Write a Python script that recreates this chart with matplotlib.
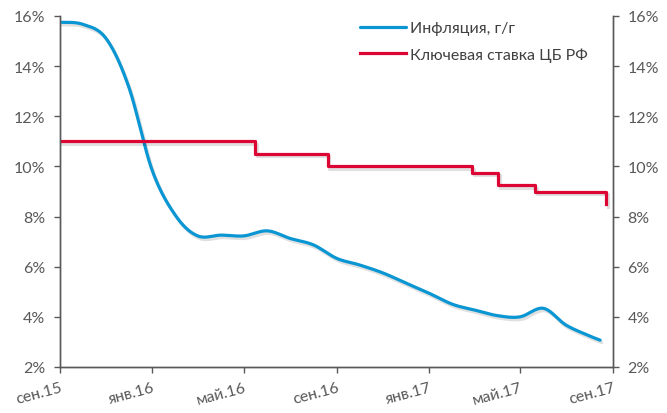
import numpy as np
import pandas as pd
import matplotlib
matplotlib.use("Agg")
import matplotlib.pyplot as plt
import matplotlib.dates as mdates
import matplotlib.patheffects as pe

# ---------------- data ----------------
infl_dates = ["2015-09-01", "2015-10-01", "2015-11-01", "2015-12-01",
              "2016-01-01", "2016-02-01", "2016-03-01", "2016-04-01",
              "2016-05-01", "2016-06-01", "2016-07-01", "2016-08-01",
              "2016-09-01", "2016-10-01", "2016-11-01", "2016-12-01",
              "2017-01-01", "2017-02-01", "2017-03-01", "2017-04-01",
              "2017-05-01", "2017-06-01", "2017-07-01", "2017-08-01",
              "2017-08-15"]
infl_values = [15.75, 15.67, 15.1, 13.16, 9.83, 8.03, 7.23, 7.26,
               7.23, 7.43, 7.13, 6.87, 6.33, 6.07, 5.75, 5.35,
               4.94, 4.5, 4.28, 4.05, 4.0, 4.34, 3.67, 3.24, 3.07]

rate_dates = ["2015-09-01", "2016-05-16", "2016-08-20", "2017-02-27",
              "2017-04-02", "2017-05-21", "2017-08-23"]
rate_values = [11.0, 10.5, 10.0, 9.75, 9.25, 9.0, 8.5]

tick_dates = ["2015-09-01", "2016-01-01", "2016-05-01", "2016-09-01",
              "2017-01-01", "2017-05-01", "2017-09-01"]
tick_labels = ["сен.15", "янв.16", "май.16", "сен.16", "янв.17", "май.17", "сен.17"]

y_ticks = [2, 4, 6, 8, 10, 12, 14, 16]

series_names = ["Инфляция, г/г", "Ключевая ставка ЦБ РФ"]

# ---------------- style ----------------
BLUE = "#0A96D2"
RED = "#DC0534"
GRAY = "#595959"
plt.rcParams["font.family"] = ["Lato", "DejaVu Sans"]


def smooth_curve(x, y, n=30):
    """Excel-like smoothed line (Catmull-Rom cubic Bezier) for rendering."""
    pts = np.column_stack([x, y]).astype(float)
    out = []
    m = len(pts)
    for i in range(m - 1):
        p0 = pts[i - 1] if i > 0 else pts[i]
        p1 = pts[i]
        p2 = pts[i + 1]
        p3 = pts[i + 2] if i + 2 < m else pts[i + 1]
        c1 = p1 + (p2 - p0) / 6.0
        c2 = p2 - (p3 - p1) / 6.0
        t = np.linspace(0, 1, n, endpoint=(i == m - 2))[:, None]
        seg = ((1 - t) ** 3) * p1 + 3 * ((1 - t) ** 2) * t * c1 + 3 * (1 - t) * t ** 2 * c2 + t ** 3 * p2
        out.append(seg)
    out = np.vstack(out)
    return out[:, 0], out[:, 1]


fig = plt.figure(figsize=(6.67, 4.14), dpi=100)
ax = fig.add_axes([60 / 667, 1 - 368 / 414, (613 - 60) / 667, (368 - 17) / 414])

xi = mdates.date2num(pd.to_datetime(infl_dates))
sx, sy = smooth_curve(xi, infl_values)
xr = mdates.date2num(pd.to_datetime(rate_dates))

shadow = [pe.SimpleLineShadow(offset=(1.2, -1.8), shadow_color="black", alpha=0.12),
          pe.Normal()]

ax.plot(sx, sy, color=BLUE, lw=2.3, label=series_names[0],
        solid_capstyle="round", path_effects=shadow, zorder=3)
ax.plot(xr, rate_values, color=RED, lw=2.3, drawstyle="steps-post",
        label=series_names[1], path_effects=shadow, zorder=3)

xt = mdates.date2num(pd.to_datetime(tick_dates))
ax.set_xlim(xt[0], xt[-1])
ax.set_ylim(2, 16)
ax.set_yticks(y_ticks)
ax.set_yticklabels([f"{v}%" for v in y_ticks])
ax.set_xticks(xt)
ax.set_xticklabels(tick_labels, rotation=15, ha="right", va="top",
                   rotation_mode="anchor")

ax2 = ax.twinx()
ax2.set_ylim(2, 16)
ax2.set_yticks(y_ticks)
ax2.set_yticklabels([f"{v}%" for v in y_ticks])

for a in (ax, ax2):
    a.spines["top"].set_visible(False)
    for s in ("left", "right", "bottom"):
        a.spines[s].set_color(GRAY)
        a.spines[s].set_linewidth(1.0)
    a.tick_params(axis="both", direction="out", length=4.5, width=1.0,
                  color=GRAY, labelcolor=GRAY, labelsize=11.5)
ax.tick_params(axis="y", pad=6)
ax2.tick_params(axis="y", pad=6)
ax.tick_params(axis="x", pad=5)

leg = ax.legend(loc="upper left", bbox_to_anchor=(360 / 667, 1 - 22 / 414),
                bbox_transform=fig.transFigure, frameon=False,
                fontsize=11.5, handlelength=2.9, handletextpad=0.25,
                labelspacing=0.75, borderpad=0, borderaxespad=0)
for t in leg.get_texts():
    t.set_color("#404040")
for l in leg.get_lines():
    l.set_path_effects([])

fig.savefig("out.png", dpi=100)
